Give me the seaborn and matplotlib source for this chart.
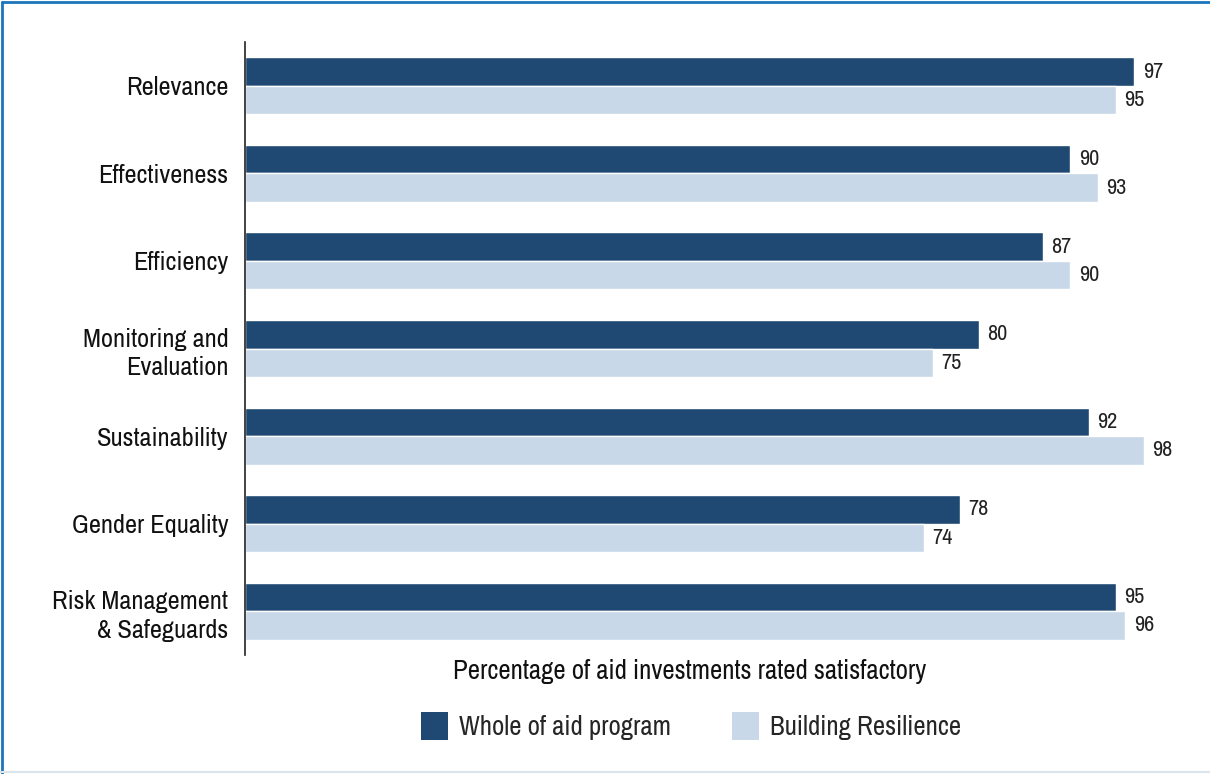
import pandas as pd
import matplotlib.pyplot as plt
import seaborn as sns
from matplotlib import font_manager
from matplotlib.lines import Line2D
from matplotlib.patches import Patch

categories = ['Relevance', 'Effectiveness', 'Efficiency', 'Monitoring and\nEvaluation',
              'Sustainability', 'Gender Equality', 'Risk Management\n& Safeguards']
whole_of_aid = [97, 90, 87, 80, 92, 78, 95]
resilience = [95, 93, 90, 75, 98, 74, 96]
series = ['Whole of aid program', 'Building Resilience']
colors = ['#1F4972', '#C8D8E8']

data = pd.DataFrame({
    'category': categories * 2,
    'value': whole_of_aid + resilience,
    'series': [series[0]] * 7 + [series[1]] * 7,
})

sns.set_theme(style='white')

# use a condensed face if one is around, otherwise Roboto
names = {f.name for f in font_manager.fontManager.ttflist}
narrow = [n for n in sorted(names) if 'Narrow' in n or 'Condensed' in n]
if narrow:
    plt.rcParams['font.family'] = [narrow[0], 'DejaVu Sans']
    fs = 19
else:
    plt.rcParams['font.family'] = ['Roboto', 'DejaVu Sans']
    fs = 16

fig = plt.figure(figsize=(12.1, 7.74), dpi=100)
ax = fig.add_axes([245 / 1210, 1 - 655 / 774, (1162 - 245) / 1210, (655 - 42) / 774])

sns.barplot(data=data, y='category', x='value', hue='series', palette=colors,
            orient='h', width=0.65, saturation=1, legend=False, ax=ax)

for cont in ax.containers:
    ax.bar_label(cont, padding=6, fontsize=16, color='#222222')

ax.set_xlim(0, 100)
ax.set_ylim(6.5, -0.5)
ax.set_xticks([])
ax.set_xlabel('')
ax.set_ylabel('')
ax.tick_params(axis='y', length=0, pad=12, labelsize=fs, labelcolor='#111111')
for lab in ax.get_yticklabels():
    lab.set_multialignment('right')
    lab.set_linespacing(1.3)
for s in ['top', 'right', 'bottom']:
    ax.spines[s].set_visible(False)
ax.spines['left'].set_color('#222222')
ax.spines['left'].set_linewidth(1.2)

fig.text(690 / 1210, 1 - 672 / 774, 'Percentage of aid investments rated satisfactory',
         ha='center', va='center', fontsize=fs + 0.3, color='#111111')

handles = [Patch(facecolor=c, edgecolor='none') for c in colors]
fig.legend(handles, series, loc='center', bbox_to_anchor=(691 / 1210, 1 - 726 / 774),
           ncol=2, frameon=False, fontsize=fs + 0.3, handlelength=1.0, handleheight=1.2,
           handletextpad=0.4, columnspacing=2.3)

# frame lines round the figure
fig.add_artist(Line2D([2 / 1210, 2 / 1210], [0, 1 - 2 / 774], color='#1A75BB', lw=2))
fig.add_artist(Line2D([2 / 1210, 1], [1 - 2 / 774, 1 - 2 / 774], color='#1A75BB', lw=2))
fig.add_artist(Line2D([0, 1], [2 / 774, 2 / 774], color='#DCE4EC', lw=1.5))

fig.savefig('out.png', dpi=100)
